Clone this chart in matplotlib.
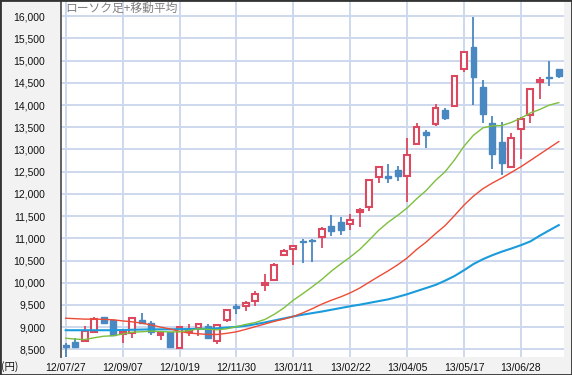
import matplotlib
matplotlib.use('Agg')
import matplotlib.pyplot as plt
from matplotlib.patches import Rectangle
from matplotlib.ticker import FuncFormatter

plt.rcParams['font.family'] = ['Liberation Sans', 'Noto Sans CJK JP', 'DejaVu Sans']

# Weekly candles, 2012/07/27 .. 2013/07/26
opens = [8600, 8670, 8690, 8880, 9220, 9160, 8850, 8860, 9160, 9100, 8820, 8880, 8520,
         8880, 8980, 9030, 8690, 9150, 9470, 9470, 9590, 9940, 10060, 10620, 10750, 10940,
         10960, 11020, 11280, 11360, 11330, 11585, 11710, 12390, 12400, 12540, 12400, 13120,
         13390, 13570, 13890, 13990, 14805, 15310, 14400, 13590, 13170, 12610, 13455, 13770,
         14525, 14640, 14810]
highs = [8640, 8760, 9020, 9220, 9220, 9170, 8900, 9220, 9310, 9140, 8880, 8880, 9020,
         9080, 9090, 9060, 9060, 9390, 9530, 9590, 9820, 10190, 10450, 10750, 10850, 10980,
         10980, 11260, 11520, 11480, 11550, 11675, 12320, 12600, 12670, 12630, 13250, 13590,
         13440, 14020, 13935, 14680, 15190, 15990, 14565, 13755, 13620, 13365, 13740, 14355,
         14625, 15000, 14810]
lows = [8300, 8520, 8680, 8880, 9060, 8820, 8650, 8760, 9090, 8820, 8720, 8520, 8500,
        8810, 8810, 8730, 8620, 9120, 9300, 9370, 9480, 9810, 10040, 10620, 10410, 10440,
        10460, 10775, 11060, 11070, 11190, 11260, 11610, 12250, 12240, 12300, 11820, 13110,
        13030, 13535, 13665, 13985, 14750, 14000, 13590, 12560, 12425, 12575, 12780, 13590,
        14135, 14435, 14600]
closes = [8560, 8545, 8910, 9180, 9085, 8820, 8900, 9200, 9100, 8880, 8870, 8550, 9010,
          8940, 9060, 8760, 9050, 9380, 9440, 9550, 9750, 9990, 10410, 10710, 10830, 10920,
          10950, 11200, 11170, 11190, 11410, 11640, 12310, 12600, 12360, 12410, 12880, 13510,
          13330, 13930, 13715, 14655, 15190, 14640, 13805, 12900, 12700, 13250, 13695, 14355,
          14560, 14600, 14660]

# Moving averages
ma_green = [8750, 8730, 8720, 8760, 8795, 8805, 8845, 8885, 8895, 8910, 8900, 8890, 8894,
            8922, 8962, 8950, 8940, 8963, 9011, 9061, 9103, 9172, 9289, 9431, 9606, 9753,
            9908, 10072, 10258, 10422, 10578, 10748, 10960, 11179, 11361, 11515, 11682, 11888,
            12074, 12303, 12496, 12764, 13072, 13321, 13487, 13533, 13540, 13609, 13708, 13821,
            13902, 14000, 14056]
ma_red = [9200, 9190, 9180, 9180, 9175, 9165, 9140, 9120, 9090, 9050, 9000, 8960, 8905,
          8865, 8850, 8835, 8835, 8860, 8895, 8950, 9010, 9070, 9130, 9180, 9240, 9320,
          9415, 9517, 9604, 9681, 9771, 9879, 10010, 10141, 10266, 10402, 10556, 10747,
          10913, 11105, 11284, 11511, 11747, 11950, 12117, 12246, 12360, 12485, 12611, 12752,
          12895, 13037, 13179]
ma_blue = [8930, 8930, 8930, 8930, 8930, 8930, 8935, 8940, 8945, 8950, 8950, 8950, 8955,
           8955, 8960, 8965, 8975, 8990, 9005, 9030, 9065, 9105, 9150, 9195, 9240, 9280,
           9315, 9350, 9390, 9430, 9470, 9505, 9545, 9585, 9625, 9680, 9740, 9810, 9880,
           9950, 10045, 10150, 10280, 10420, 10530, 10620, 10700, 10770, 10845, 10930, 11060,
           11180, 11297]

xtick_labels = ['12/07/27', '12/09/07', '12/10/19', '12/11/30', '13/01/11',
                '13/02/22', '13/04/05', '13/05/17', '13/06/28']
xtick_pos = [0, 6, 12, 18, 24, 30, 36, 42, 48]
yticks = list(range(8500, 16001, 500))

RED = '#DC4860'
BLUE = '#4A88C2'

fig = plt.figure(figsize=(5.72, 3.75), dpi=100, facecolor='#F2F2F2')
ax = fig.add_axes([60.5 / 572, 18 / 375, (564 - 60.5) / 572, 356 / 375])
ax.set_facecolor('white')

w = 0.62
for i, (o, h, l, c) in enumerate(zip(opens, highs, lows, closes)):
    if c >= o:
        ax.vlines(i, l, h, color=RED, lw=1.3, zorder=3)
        ax.add_patch(Rectangle((i - w / 2, o), w, max(c - o, 8), facecolor='white',
                               edgecolor=RED, lw=1.5, zorder=4))
    else:
        ax.vlines(i, l, h, color=BLUE, lw=1.3, zorder=3)
        ax.add_patch(Rectangle((i - w / 2, c), w, max(o - c, 8), facecolor=BLUE,
                               edgecolor=BLUE, lw=1.0, zorder=4))

x = list(range(len(closes)))
ax.plot(x, ma_blue, color='#1A9BDB', lw=1.5, zorder=5)
ax.plot(x, ma_red, color='#EE4B35', lw=1.0, zorder=5)
ax.plot(x, ma_green, color='#7DBF3C', lw=1.0, zorder=5)

ax.set_xlim(-0.55, 52.55)
ax.set_ylim(8327, 16344)
ax.set_yticks(yticks)
ax.set_xticks(xtick_pos)
ax.set_xticklabels(xtick_labels)
ax.yaxis.set_major_formatter(FuncFormatter(lambda v, p: f'{int(v):,}'))
ax.grid(True, color='#CDD8EE', lw=1.4)
ax.set_axisbelow(True)
for s in ['top', 'right', 'bottom']:
    ax.spines[s].set_visible(False)
ax.spines['left'].set_color('#555555')
ax.spines['left'].set_linewidth(1.3)
ax.tick_params(axis='y', length=0, pad=11, labelsize=7.5, labelcolor='#111111')
ax.tick_params(axis='x', length=0, pad=4, labelsize=7.5, labelcolor='#111111')

fig.text(65 / 572, (375 - 8.5) / 375, 'ローソク足+移動平均', fontsize=8.5, color='#808080',
         va='center', ha='left', family=['Noto Sans CJK JP', 'DejaVu Sans'])
fig.text(1 / 572, (375 - 367) / 375, '(円)', fontsize=7.5, color='#111111',
         va='center', ha='left', family=['Noto Sans CJK JP', 'DejaVu Sans'])

fig.patches.append(Rectangle((0, 0), 1, 1, transform=fig.transFigure, fill=False,
                             edgecolor='#333333', lw=2))

fig.savefig('out.png', dpi=100, facecolor=fig.get_facecolor())
